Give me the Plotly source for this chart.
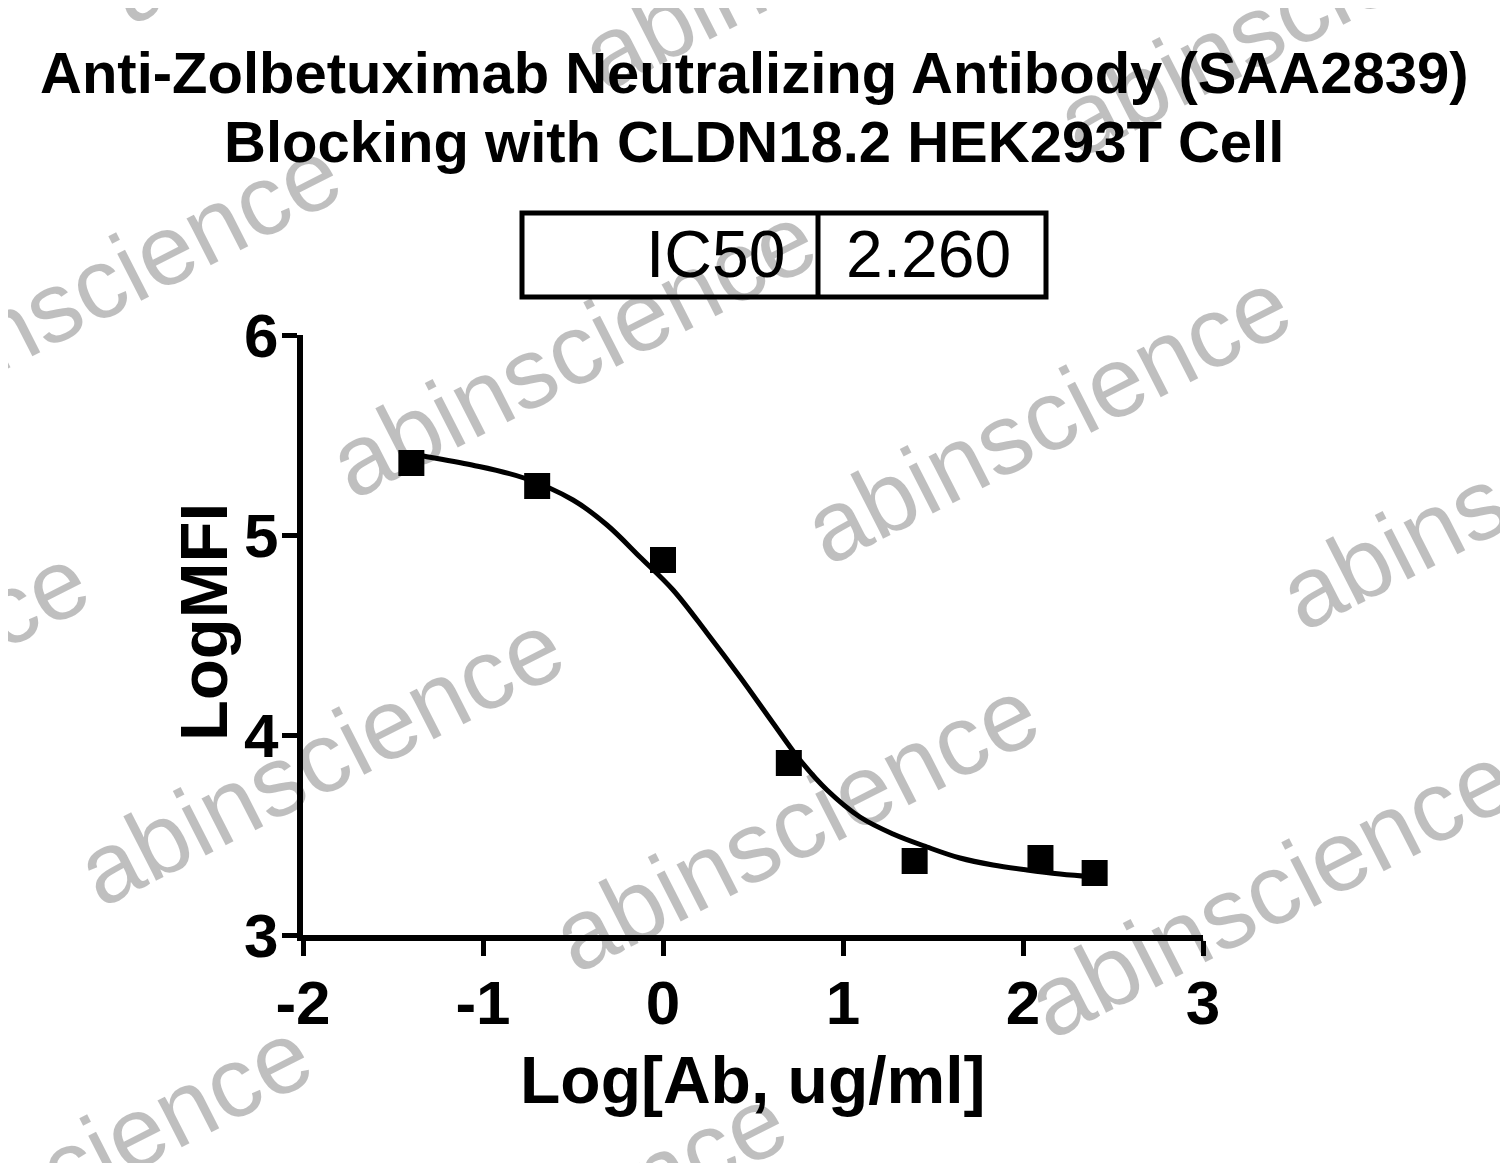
import plotly.graph_objects as go

# text
title_lines = ["Anti-Zolbetuximab Neutralizing Antibody (SAA2839)",
               "Blocking with CLDN18.2 HEK293T Cell"]
x_title = "Log[Ab, ug/ml]"
y_title = "LogMFI"
ic50_label = "IC50"
ic50_value = "2.260"
watermark = "abinscience"

# measured points
log_conc = [-1.398, -0.699, 0.0, 0.699, 1.398, 2.097, 2.398]
log_mfi = [5.36, 5.245, 4.875, 3.86, 3.37, 3.385, 3.31]

# fitted curve
fit_x = [-1.398, -1.367, -1.061, -0.772, -0.5, -0.311, -0.128, 0.056, 0.244,
         0.428, 0.611, 0.761, 0.911, 1.094, 1.278, 1.467, 1.65, 1.833, 2.022,
         2.206, 2.398]
fit_y = [5.405, 5.40, 5.35, 5.285, 5.175, 5.05, 4.89, 4.725, 4.51,
         4.29, 4.06, 3.875, 3.725, 3.59, 3.505, 3.44, 3.385, 3.35, 3.325,
         3.305, 3.29]

x_ticks = [-2, -1, 0, 1, 2, 3]
x_tick_labels = ["-2", "-1", "0", "1", "2", "3"]
y_ticks = [3, 4, 5, 6]
y_tick_labels = ["3", "4", "5", "6"]

W, H = 1508, 1163
# plot box as seen on screen; the page body adds an 8px margin
L, R, T, B = 303, 1203, 335, 935
BODY = 8
FONT = "Arial, Liberation Sans, sans-serif"


def px(x):
    return (x - L) / (R - L)


def py(y):
    return (B - y) / (B - T)


fig = go.Figure()
fig.add_trace(go.Scatter(x=fit_x, y=fit_y, mode="lines",
                         line=dict(color="black", width=5, shape="spline"),
                         showlegend=False))
fig.add_trace(go.Scatter(x=log_conc, y=log_mfi, mode="markers",
                         marker=dict(symbol="square", size=26, color="black"),
                         showlegend=False))

ann = []
# title
for txt, yc in zip(title_lines, [72, 141]):
    ann.append(dict(text=txt, x=px(754), y=py(yc), xref="paper", yref="paper",
                    xanchor="center", yanchor="middle", showarrow=False,
                    font=dict(family=FONT, size=58, color="black", weight="bold")))
# axis titles
ann.append(dict(text=x_title, x=px(753), y=py(1080), xref="paper", yref="paper",
                xanchor="center", yanchor="middle", showarrow=False,
                font=dict(family=FONT, size=66, color="black", weight="bold")))
ann.append(dict(text=y_title, x=px(203), y=py(622), xref="paper", yref="paper",
                xanchor="center", yanchor="middle", showarrow=False, textangle=-90,
                font=dict(family=FONT, size=67, color="black", weight="bold")))
# IC50 box
ann.append(dict(text=ic50_label, x=px(787), y=py(254), xref="paper", yref="paper",
                xanchor="right", yanchor="middle", showarrow=False,
                font=dict(family=FONT, size=66, color="black")))
ann.append(dict(text=ic50_value, x=px(1013), y=py(254), xref="paper", yref="paper",
                xanchor="right", yanchor="middle", showarrow=False,
                font=dict(family=FONT, size=66, color="black")))

# watermark grid
base = (572, 350)
step_a = (475, 66)
step_b = (-252, 408)
for i in range(-2, 4):
    for j in range(-2, 4):
        cx = base[0] + i * step_a[0] + j * step_b[0]
        cy = base[1] + i * step_a[1] + j * step_b[1]
        if -300 < cx < W + 300 and -150 < cy < H + 110:
            ann.append(dict(text=watermark, x=px(cx), y=py(cy), xref="paper", yref="paper",
                            xanchor="center", yanchor="middle", showarrow=False,
                            textangle=-27,
                            font=dict(family=FONT, size=100, color="rgba(0,0,0,0.25)")))

shapes = [
    dict(type="rect", xref="paper", yref="paper", x0=px(522), x1=px(1046),
         y0=py(297), y1=py(213), line=dict(color="black", width=5)),
    dict(type="line", xref="paper", yref="paper", x0=px(818), x1=px(818),
         y0=py(297), y1=py(213), line=dict(color="black", width=5)),
]

axis_style = dict(showgrid=False, zeroline=False, showline=True, linecolor="black",
                  linewidth=6, ticks="outside", ticklen=15, tickwidth=5,
                  tickcolor="black",
                  tickfont=dict(family=FONT, size=62, color="black", weight="bold"))

fig.update_layout(
    width=W, height=H,
    margin=dict(l=L - BODY, r=W - R + BODY, t=T - BODY, b=H - B + BODY, pad=0),
    paper_bgcolor="white", plot_bgcolor="white",
    xaxis=dict(range=[-2, 3], tickvals=x_ticks, ticktext=x_tick_labels,
               ticklabelstandoff=-6, **axis_style),
    yaxis=dict(range=[3, 6], tickvals=y_ticks, ticktext=y_tick_labels,
               ticklabelstandoff=-9, **axis_style),
    annotations=ann,
    shapes=shapes,
)

fig.write_html("out.html")
